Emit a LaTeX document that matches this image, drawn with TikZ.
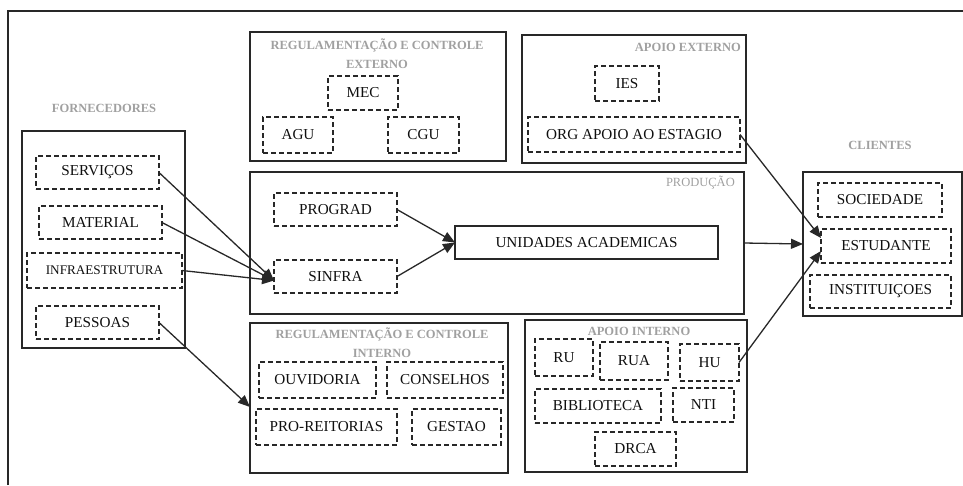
\documentclass[tikz,border=0pt]{standalone}
\usepackage{fontspec}
\setmainfont{Liberation Serif}
\usetikzlibrary{arrows.meta}
\definecolor{ink}{RGB}{40,40,40}
\definecolor{capgray}{RGB}{160,160,160}
\definecolor{txt}{RGB}{15,15,15}
\begin{document}
\begin{tikzpicture}[x=1pt,y=-1pt,
  sz/.style 2 args={minimum width=#1pt,minimum height=#2pt},
  group/.style={draw=ink,line width=1.3pt,inner sep=0pt,outer sep=0pt},
  item/.style={draw=ink,line width=1.2pt,dash pattern=on 5pt off 3pt,
    inner sep=0pt,outer sep=0pt,text=txt,font=\rmfamily\fontsize{15.2}{17}\selectfont},
  solidbox/.style={draw=ink,line width=1.3pt,inner sep=0pt,outer sep=0pt,
    text=txt,font=\rmfamily\fontsize{15.2}{17}\selectfont},
  caption/.style={text=capgray,inner sep=0pt,align=center,
    font=\rmfamily\bfseries\fontsize{12.5}{18.5}\selectfont},
  flow/.style={draw=ink,line width=1.3pt,-{Triangle[length=12pt,width=10pt]}},
  frame/.style={draw=ink,line width=1.6pt}]
\useasboundingbox (0,0) rectangle (963,485);
\draw[frame] (8,485) -- (8,11) -- (963,11);

% suppliers
\node[group,sz={163}{217}] (forn) at (103.5,239.5) {};
\node[caption] (fornlbl) at (104,108) {FORNECEDORES};
\node[item,sz={123}{33}] (serv) at (97.5,172.5) {SERVIÇOS};
\node[item,sz={123}{33}] (mat) at (100.5,222.5) {MATERIAL};
\node[item,sz={155}{35},font=\rmfamily\fontsize{13.2}{15}\selectfont] (infra) at (104.5,270.5) {INFRAESTRUTURA};
\node[item,sz={123}{33}] (pess) at (97.5,322.5) {PESSOAS};

% external regulation
\node[group,sz={256}{129}] (regext) at (378,96.5) {};
\node[caption] (regextlbl) at (377,53.5) {REGULAMENTAÇÃO E CONTROLE\\EXTERNO};
\node[item,sz={70}{34}] (mec) at (363,93) {MEC};
\node[item,sz={70}{36}] (agu) at (298,135) {AGU};
\node[item,sz={71}{36}] (cgu) at (423.5,135) {CGU};

% external support
\node[group,sz={224}{128}] (apext) at (634,99) {};
\node[caption,anchor=east] (apextlbl) at (741,47) {APOIO EXTERNO};
\node[item,sz={64}{35}] (ies) at (627,83.5) {IES};
\node[item,sz={212}{35}] (org) at (634,134.5) {ORG APOIO AO ESTAGIO};

% production
\node[group,sz={494}{142}] (prod) at (497,243) {};
\node[caption,anchor=east,font=\rmfamily\fontsize{12.5}{14}\selectfont] (prodlbl) at (735,183) {PRODUÇÃO};
\node[item,sz={123}{33}] (prograd) at (335.5,209.5) {PROGRAD};
\node[item,sz={123}{33}] (sinfra) at (335.5,276.5) {SINFRA};
\node[solidbox,sz={263}{33}] (unid) at (586.5,242.5) {UNIDADES ACADEMICAS};

% clients
\node[group,sz={159}{144}] (cli) at (882.5,244) {};
\node[caption] (clilbl) at (880,145) {CLIENTES};
\node[item,sz={124}{34}] (soc) at (880,200) {SOCIEDADE};
\node[item,sz={130}{34}] (est) at (886,246) {ESTUDANTE};
\node[item,sz={141}{33}] (inst) at (880.5,291.5) {INSTITUIÇOES};

% internal regulation
\node[group,sz={258}{150}] (regint) at (379,398) {};
\node[caption] (regintlbl) at (382,342.5) {REGULAMENTAÇÃO E CONTROLE\\INTERNO};
\node[item,sz={117}{36}] (ouv) at (317.5,380) {OUVIDORIA};
\node[item,sz={116}{36}] (cons) at (445,380) {CONSELHOS};
\node[item,sz={141}{36}] (pro) at (326.5,427) {PRO-REITORIAS};
\node[item,sz={89}{36}] (gest) at (456.5,427) {GESTAO};

% internal support
\node[group,sz={222}{152}] (apint) at (636,396) {};
\node[caption] (apintlbl) at (639,331) {APOIO INTERNO};
\node[item,sz={58}{37}] (ru) at (564,357.5) {RU};
\node[item,sz={68}{38}] (rua) at (634,361) {RUA};
\node[item,sz={59}{37}] (hu) at (709.5,362.5) {HU};
\node[item,sz={126}{34}] (bib) at (598,406) {BIBLIOTECA};
\node[item,sz={61}{34}] (nti) at (703.5,405) {NTI};
\node[item,sz={81}{34}] (drca) at (635.5,449) {DRCA};

% connectors
\coordinate (sinfrain) at ([yshift=-4pt]sinfra.west);
\draw[flow] (serv.east) -- (sinfrain);
\draw[flow] (mat.east) -- (sinfrain);
\draw[flow] (infra.east) -- (sinfrain);
\draw[flow] (pess.east) -- ([yshift=-9pt]regint.west);
\draw[flow] (prograd.east) -- (unid.west);
\draw[flow] (sinfra.east) -- (unid.west);
\draw[flow] (prod.east) -- (cli.west);
\draw[flow] (org.east) -- ([yshift=8pt]est.west);
\draw[flow] (hu.east) -- ([yshift=-5pt]est.west);
\end{tikzpicture}
\end{document}
